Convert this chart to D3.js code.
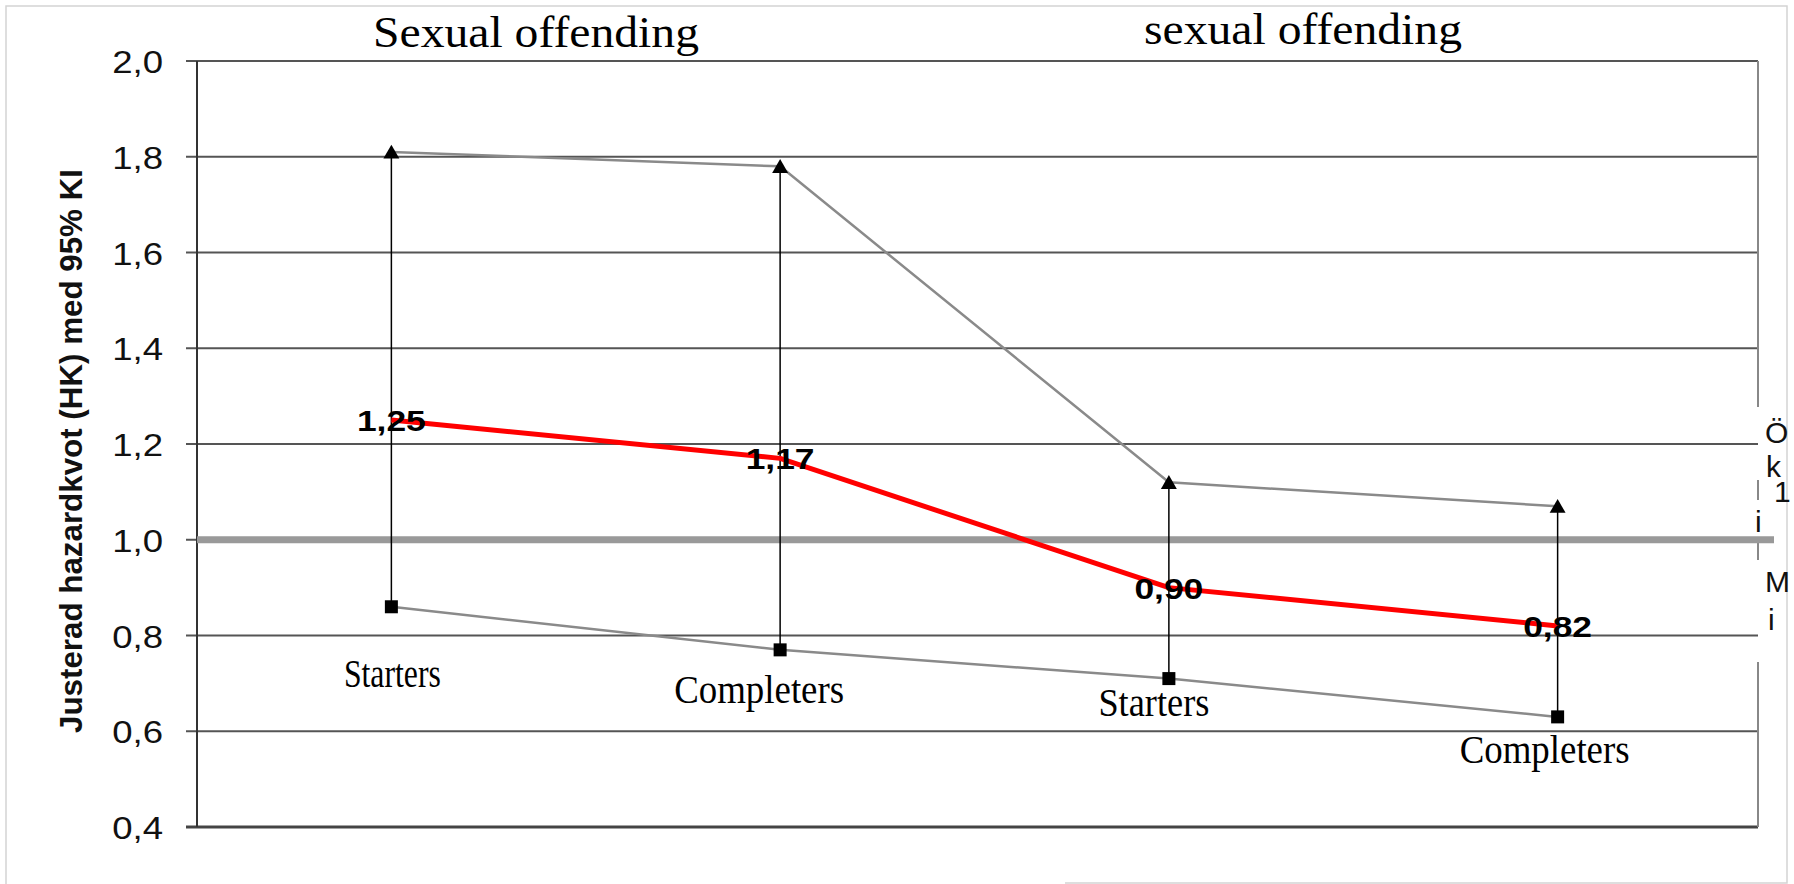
<!DOCTYPE html>
<html>
<head>
<meta charset="utf-8">
<script src="https://cdn.jsdelivr.net/npm/d3@7"></script>
<style>
  body { margin: 0; background: #fff; }
  svg { display: block; }
</style>
</head>
<body>
<div id="chart"></div>
<script>
/*
------------------------------
DATA
------------------------------
*/
let categories = ["Starters", "Completers", "Starters", "Completers"];
let estimates = [1.25, 1.17, 0.90, 0.82];
let upper = [1.81, 1.78, 1.12, 1.07];
let lower = [0.86, 0.77, 0.71, 0.63];
let estimateLabels = ["1,25", "1,17", "0,90", "0,82"];
let yTicks = [0.4, 0.6, 0.8, 1.0, 1.2, 1.4, 1.6, 1.8, 2.0];
let groupTitles = ["Sexual offending", "sexual offending"];
let refValue = 1.0;
let yTitle = "Justerad hazardkvot (HK) med 95% KI";
let legendBits = ["Ö", "k", "1", "i", "M", "i"];

/*
------------------------------
LAYOUT
------------------------------
*/
let width = 1794, height = 884;
let plot = {left: 197, right: 1758, top: 61, bottom: 827};
let sans = "Arial, 'Liberation Sans', sans-serif";
let serif = "'Times New Roman', 'Liberation Serif', serif";
let stretch = 1.18;

// where the category text boxes sit (offset from point x, baseline y, width)
let catLabelPos = [
  {dx: 1, y: 687, w: 97},
  {dx: -21, y: 703, w: 170},
  {dx: -15, y: 716, w: 111},
  {dx: -13, y: 763, w: 170}
];
let titlePos = [{x: 536, y: 47, w: 326}, {x: 1303, y: 44, w: 318}];
let legendPos = [
  {x: 1765, y: 443}, {x: 1766, y: 477}, {x: 1774, y: 502},
  {x: 1755, y: 532}, {x: 1765, y: 592}, {x: 1768, y: 630}
];

let svg = d3.select("#chart").append("svg")
  .attr("width", width)
  .attr("height", height);

let x = d3.scalePoint()
  .domain(d3.range(categories.length))
  .range([plot.left, 1752])
  .padding(0.5);

let y = d3.scaleLinear()
  .domain([0.4, 2.0])
  .range([plot.bottom, plot.top]);

// outer frame of the picture
svg.append("path")
  .attr("d", `M6,884 V6 H1787 V883 H1065`)
  .attr("fill", "none")
  .attr("stroke", "#d4d4d4")
  .attr("stroke-width", 1.5);

/*
------------------------------
gridlines + y axis
------------------------------
*/
svg.append("g").selectAll("line")
  .data(yTicks)
  .join("line")
  .attr("x1", plot.left - 11)
  .attr("x2", plot.right)
  .attr("y1", d => y(d))
  .attr("y2", d => y(d))
  .attr("stroke", d => (d === 0.4) ? "#444" : "#555")
  .attr("stroke-width", d => (d === 0.4) ? 3 : 2);

svg.append("line")
  .attr("x1", plot.left).attr("x2", plot.left)
  .attr("y1", plot.top).attr("y2", plot.bottom)
  .attr("stroke", "#333")
  .attr("stroke-width", 2);

// right border (partly hidden behind the legend box)
let borderSegs = [[plot.top, 407], [480, 500], [540, 560], [662, plot.bottom]];
svg.append("g").selectAll("line")
  .data(borderSegs)
  .join("line")
  .attr("x1", plot.right).attr("x2", plot.right)
  .attr("y1", d => d[0]).attr("y2", d => d[1])
  .attr("stroke", "#888")
  .attr("stroke-width", 2);

svg.append("g").selectAll("text")
  .data(yTicks)
  .join("text")
  .attr("transform", d => `translate(163,${y(d) + 12}) scale(${stretch},1)`)
  .attr("text-anchor", "end")
  .attr("font-family", sans)
  .attr("font-size", 31)
  .attr("fill", "#111")
  .text(d => d3.format(".1f")(d).replace(".", ","));

svg.append("text")
  .attr("transform", "translate(82,451) rotate(-90)")
  .attr("text-anchor", "middle")
  .attr("font-family", sans)
  .attr("font-weight", "bold")
  .attr("font-size", 32)
  .attr("textLength", 564)
  .attr("lengthAdjust", "spacingAndGlyphs")
  .attr("fill", "#111")
  .text(yTitle);

// reference line at HK = 1
svg.append("line")
  .attr("x1", plot.left).attr("x2", 1774)
  .attr("y1", y(refValue)).attr("y2", y(refValue))
  .attr("stroke", "#999")
  .attr("stroke-width", 7);

/*
------------------------------
confidence bounds
------------------------------
*/
let idx = d3.range(categories.length);
let line = d3.line().x(d => d[0]).y(d => d[1]);

svg.append("path")
  .attr("d", line(idx.map(i => [x(i), y(upper[i])])))
  .attr("fill", "none")
  .attr("stroke", "#8a8a8a")
  .attr("stroke-width", 2.5);

svg.append("path")
  .attr("d", line(idx.map(i => [x(i), y(lower[i])])))
  .attr("fill", "none")
  .attr("stroke", "#8a8a8a")
  .attr("stroke-width", 2.5);

svg.append("g").selectAll("line")
  .data(idx)
  .join("line")
  .attr("x1", i => x(i)).attr("x2", i => x(i))
  .attr("y1", i => y(lower[i])).attr("y2", i => y(upper[i]))
  .attr("stroke", "#000")
  .attr("stroke-width", 1.5);

svg.append("g").selectAll("path")
  .data(idx)
  .join("path")
  .attr("d", d3.symbol(d3.symbolTriangle, 110))
  .attr("transform", i => `translate(${x(i)},${y(upper[i]) + 2})`)
  .attr("fill", "#000");

svg.append("g").selectAll("rect")
  .data(idx)
  .join("rect")
  .attr("x", i => x(i) - 6.5)
  .attr("y", i => y(lower[i]) - 6.5)
  .attr("width", 13)
  .attr("height", 13)
  .attr("fill", "#000");

/*
------------------------------
point estimates
------------------------------
*/
svg.append("path")
  .attr("d", line(idx.map(i => [x(i), y(estimates[i])])))
  .attr("fill", "none")
  .attr("stroke", "#ff0000")
  .attr("stroke-width", 5)
  .attr("stroke-linejoin", "round");

svg.append("g").selectAll("text")
  .data(idx)
  .join("text")
  .attr("transform", i => `translate(${x(i)},${y(estimates[i]) + 11}) scale(${stretch},1)`)
  .attr("text-anchor", "middle")
  .attr("font-family", sans)
  .attr("font-weight", "bold")
  .attr("font-size", 30)
  .attr("fill", "#000")
  .text(i => estimateLabels[i]);

/*
------------------------------
category + group titles
------------------------------
*/
svg.append("g").selectAll("text")
  .data(idx)
  .join("text")
  .attr("x", i => x(i) + catLabelPos[i].dx)
  .attr("y", i => catLabelPos[i].y)
  .attr("text-anchor", "middle")
  .attr("font-family", serif)
  .attr("font-size", 39)
  .attr("textLength", i => catLabelPos[i].w)
  .attr("lengthAdjust", "spacingAndGlyphs")
  .attr("fill", "#000")
  .text(i => categories[i]);

svg.append("g").selectAll("text")
  .data(groupTitles)
  .join("text")
  .attr("x", (d, i) => titlePos[i].x)
  .attr("y", (d, i) => titlePos[i].y)
  .attr("text-anchor", "middle")
  .attr("font-family", serif)
  .attr("font-size", 44)
  .attr("textLength", (d, i) => titlePos[i].w)
  .attr("lengthAdjust", "spacingAndGlyphs")
  .attr("fill", "#000")
  .text(d => d);

// clipped legend text on the right edge
svg.append("g").selectAll("text")
  .data(legendBits)
  .join("text")
  .attr("x", (d, i) => legendPos[i].x)
  .attr("y", (d, i) => legendPos[i].y)
  .attr("font-family", sans)
  .attr("font-size", 30)
  .attr("fill", "#111")
  .text(d => d);
</script>
</body>
</html>
